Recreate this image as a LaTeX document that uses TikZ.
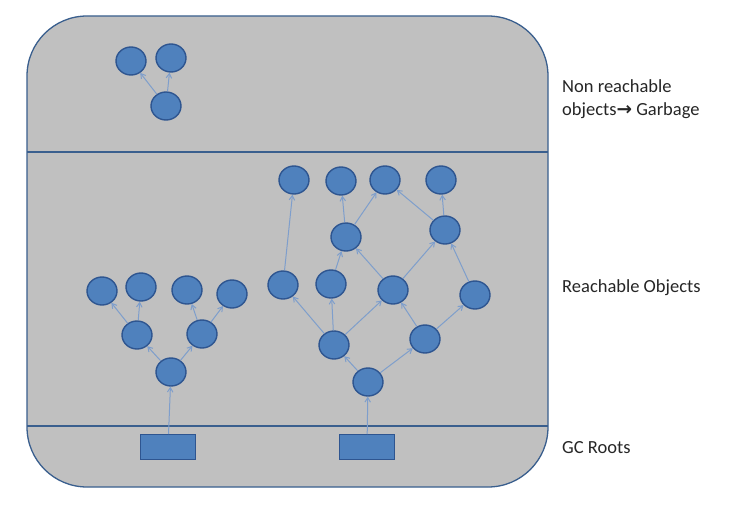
\documentclass[tikz,border=0pt]{standalone}
\usepackage{fontspec}
\setmainfont{Carlito}
\newfontfamily\arrfont{DejaVu Sans}
\usetikzlibrary{shapes.geometric,arrows.meta}
\definecolor{objfill}{HTML}{4F81BD}
\definecolor{objline}{HTML}{2E5590}
\definecolor{edgecol}{HTML}{7E9ECC}
\definecolor{bggray}{HTML}{C0C0C0}
\definecolor{framecol}{HTML}{3A5F8E}
\definecolor{txtcol}{HTML}{262626}
\begin{document}
\begin{tikzpicture}[x=1pt,y=-1pt,
  obj/.style={ellipse,draw=objline,fill=objfill,line width=1.4pt,minimum width=30pt,minimum height=28pt,inner sep=0pt},
  rootbox/.style={rectangle,draw=objline,fill=objfill,line width=1pt,minimum width=55pt,minimum height=25pt,inner sep=0pt},
  ref/.style={draw=edgecol,line width=1pt,-{Straight Barb[length=4.5pt,width=5.5pt]}},
  lbl/.style={anchor=west,text=txtcol,font=\fontsize{18.5}{23.5}\selectfont,align=left,inner sep=0pt}]
\useasboundingbox (0,0) rectangle (754,513);
\fill[white] (0,0) rectangle (754,513);
% frame
\draw[fill=bggray,draw=framecol,line width=1.3pt,rounded corners=60pt] (27,16) rectangle (548,487);
\draw[framecol,line width=1.3pt] (27,152) coordinate (l1) -- (548,152) coordinate (r1);
\draw[framecol,line width=1.3pt] (27,426) coordinate (l2) -- (548,426) coordinate (r2);
% garbage
\node[obj] (g1) at (131,61) {};
\node[obj] (g2) at (171,58) {};
\node[obj] (g3) at (166,106) {};
\draw[ref] (g3) -- (g1);
\draw[ref] (g3) -- (g2);
% left tree
\node[obj] (a1) at (102,291) {};
\node[obj] (a2) at (141,287) {};
\node[obj] (a3) at (187,290) {};
\node[obj] (a4) at (232,294) {};
\node[obj] (b1) at (137,335) {};
\node[obj] (b2) at (202,334) {};
\node[obj] (c1) at (171,372) {};
\node[rootbox] (r1b) at (168,447) {};
\draw[ref] (r1b) -- (c1);
\draw[ref] (c1) -- (b1);
\draw[ref] (c1) -- (b2);
\draw[ref] (b1) -- (a1);
\draw[ref] (b1) -- (a2);
\draw[ref] (b2) -- (a3);
\draw[ref] (b2) -- (a4);
% right graph
\node[obj] (t1) at (294,180) {};
\node[obj] (t2) at (341,181) {};
\node[obj] (t3) at (385,180) {};
\node[obj] (t4) at (441,180) {};
\node[obj] (s1) at (346,237) {};
\node[obj] (s2) at (445,230) {};
\node[obj] (m1) at (283,285) {};
\node[obj] (m2) at (331,284) {};
\node[obj] (m3) at (393,290) {};
\node[obj] (m4) at (475,295) {};
\node[obj] (f1) at (334,345) {};
\node[obj] (f2) at (425,339) {};
\node[obj] (e1) at (368,382) {};
\node[rootbox] (r2b) at (367,447) {};
\draw[ref] (r2b) -- (e1);
\draw[ref] (e1) -- (f1);
\draw[ref] (e1) -- (f2);
\draw[ref] (f1) -- (m1);
\draw[ref] (f1) -- (m2);
\draw[ref] (f1) -- (m3);
\draw[ref] (f2) -- (m3);
\draw[ref] (f2) -- (m4);
\draw[ref] (m1) -- (t1);
\draw[ref] (m2) -- (s1);
\draw[ref] (m3) -- (s1);
\draw[ref] (m3) -- (s2);
\draw[ref] (m4) -- (s2);
\draw[ref] (s1) -- (t2);
\draw[ref] (s1) -- (t3);
\draw[ref] (s2) -- (t3);
\draw[ref] (s2) -- (t4);
% labels
\node[lbl] (lg) at (562,99) {Non reachable\\objects{\arrfont\bfseries →} Garbage};
\node[lbl] (lr) at (562,288) {Reachable Objects};
\node[lbl] (lc) at (562,448) {GC Roots};
\end{tikzpicture}
\end{document}
